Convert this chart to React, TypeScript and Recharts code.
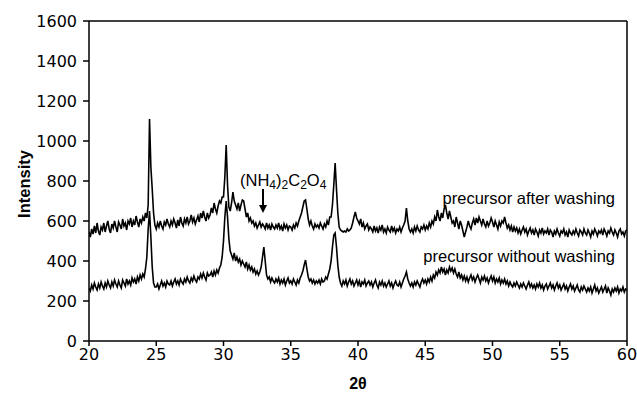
import React from "react";
import { LineChart, Line, XAxis, YAxis, ReferenceLine } from "recharts";

// intensity readings, 0.1° steps from 20.0 to 60.0 (one row per degree)
const afterWashing = [
  545, 520, 560, 535, 575, 540, 590, 550, 530, 570,
  555, 590, 545, 575, 600, 560, 540, 585, 565, 600,
  570, 545, 595, 580, 560, 610, 575, 590, 555, 600,
  585, 615, 570, 600, 580, 625, 595, 570, 610, 590,
  620, 600, 640, 615, 680, 1110, 870, 760, 640, 580,
  560, 590, 570, 600, 575, 560, 595, 580, 610, 585,
  570, 600, 580, 610, 590, 565, 605, 575, 620, 590,
  575, 610, 590, 620, 585, 600, 630, 595, 615, 585,
  605, 625, 595, 640, 615, 650, 620, 600, 640, 615,
  630, 665, 640, 690, 660, 640, 675, 700, 690, 720,
  720, 820, 980, 780, 670, 650, 690, 745, 700, 680,
  660, 690, 650, 680, 705, 700, 660, 620, 640, 600,
  615, 590, 600, 575, 590, 565, 580, 595, 570, 585,
  575, 560, 590, 565, 580, 555, 585, 570, 560, 580,
  565, 590, 560, 575, 550, 585, 565, 580, 555, 575,
  570, 555, 580, 565, 590, 575, 600, 620, 640, 670,
  700, 705, 660, 610, 580, 600, 575, 560, 585, 570,
  580, 565, 590, 575, 560, 585, 570, 600, 580, 620,
  620, 680, 780, 890, 760, 640, 570, 555, 550, 545,
  550, 545, 560, 550, 555, 565, 590, 620, 645, 615,
  600, 585, 610, 570, 590, 560, 575, 585, 555, 570,
  560, 545, 575, 550, 565, 540, 570, 555, 580, 545,
  560, 540, 570, 555, 545, 575, 550, 565, 540, 560,
  550, 570, 545, 565, 580, 600, 665, 600, 560, 545,
  560, 540, 570, 550, 575, 555, 545, 570, 560, 580,
  555, 575, 560, 590, 570, 600, 585, 620, 600, 655,
  620, 600, 640, 615, 660, 680, 640, 610, 650, 620,
  590, 600, 570, 620, 590, 560, 600, 580, 550, 520,
  545, 570, 600, 575, 560, 590, 610, 580, 615, 590,
  620, 600, 580, 610, 585, 570, 600, 575, 590, 615,
  595, 570, 600, 580, 560, 595, 575, 600, 590, 620,
  590, 565, 580, 555, 575, 545, 570, 550, 565, 540,
  560, 535, 555, 570, 545, 560, 530, 550, 565, 540,
  555, 530, 560, 545, 525, 555, 540, 565, 535, 550,
  540, 560, 530, 555, 545, 520, 550, 535, 560, 540,
  525, 550, 540, 560, 530, 545, 520, 555, 540, 530,
  550, 535, 560, 540, 525, 555, 545, 530, 560, 540,
  530, 555, 540, 520, 550, 535, 560, 545, 525, 550,
  540, 555, 530, 560, 545, 525, 550, 540, 565, 545,
  530, 555, 540, 520, 550, 560, 535, 545, 525, 550,
  555,
];

const withoutWashing = [
  265, 250, 280, 260, 290, 270, 255, 285, 265, 295,
  275, 260, 290, 270, 300, 280, 265, 295, 275, 305,
  285, 270, 300, 280, 265, 305, 290, 275, 310, 285,
  300, 280, 315, 295, 310, 285, 320, 300, 330, 310,
  335, 320, 360, 420, 560, 650, 520, 370, 290, 270,
  270, 285, 260, 280, 300, 275, 290, 270, 300, 285,
  280, 300, 275, 295, 310, 285, 300, 280, 310, 295,
  285, 310, 295, 320, 300, 290, 315, 300, 325, 305,
  295, 320, 310, 335, 315, 340, 320, 305, 340, 325,
  330, 345, 320, 350, 330, 355, 340, 365, 380, 420,
  500, 620, 700, 620, 510, 450, 430, 410, 440, 400,
  420, 395, 410, 380, 400, 385, 370, 395, 360, 380,
  355, 370, 345, 360, 335, 350, 330, 345, 370, 420,
  470, 400, 330, 310, 320, 295, 315, 300, 290, 310,
  295, 315, 285, 305, 290, 310, 280, 300, 315, 290,
  300, 285, 310, 295, 280, 305, 290, 315, 330, 350,
  380, 405, 360, 320, 300, 310, 290, 305, 285, 300,
  290, 305, 285, 310, 295, 300, 320, 310, 335, 360,
  400, 470, 530, 540, 470, 380, 320, 290, 275, 300,
  285, 305, 275, 295, 310, 285, 300, 275, 290, 305,
  280, 300, 270, 295, 285, 305, 275, 290, 300, 280,
  295, 270, 290, 305, 280, 265, 295, 280, 300, 275,
  290, 270, 285, 300, 275, 290, 265, 285, 300, 280,
  275, 295, 270, 290, 310, 325, 345, 310, 290, 275,
  290, 270, 295, 280, 300, 285, 270, 295, 310, 290,
  305, 285, 310, 295, 320, 300, 330, 315, 345, 330,
  355, 340, 370, 345, 360, 330, 355, 340, 370, 350,
  365, 340, 360, 335, 320, 345, 315, 330, 305, 325,
  300, 320, 295, 315, 330, 305, 320, 295, 315, 330,
  310, 290, 320, 305, 325, 300, 315, 290, 310, 325,
  300, 320, 290, 310, 295, 315, 285, 305, 290, 310,
  285, 300, 275, 295, 280, 270, 290, 275, 295, 280,
  265, 285, 270, 290, 275, 260, 280, 295, 270, 285,
  265, 280, 260, 285, 270, 290, 265, 280, 255, 275,
  285, 260, 275, 290, 265, 280, 255, 275, 290, 265,
  280, 255, 270, 285, 260, 275, 250, 270, 285, 260,
  275, 250, 265, 280, 255, 245, 270, 255, 275, 260,
  245, 265, 250, 270, 240, 260, 280, 250, 265, 240,
  255, 270, 245, 260, 275, 240, 265, 250, 230, 260,
  245, 265, 250, 270, 240, 260, 250, 270, 245, 260,
  255,
];

const xTicks = [20, 25, 30, 35, 40, 45, 50, 55, 60];
const yTicks = [0, 200, 400, 600, 800, 1000, 1200, 1400, 1600];

const data = afterWashing.map((v, i) => ({
  t: Math.round(200 + i) / 10,
  after: v,
  without: withoutWashing[i],
}));

const tickFont = { fontSize: 16, fill: "#000", fontFamily: "'DejaVu Sans', sans-serif" };
const textFont = "'Liberation Sans', Arial, sans-serif";

export default function App() {
  return (
    <div style={{ position: "absolute", left: 0, top: 0, width: 637, height: 397, background: "#fff" }}>
      <LineChart width={637} height={397} data={data} margin={{ top: 21, right: 10, bottom: 0, left: 29 }}>
        <XAxis dataKey="t" type="number" domain={[20, 60]} ticks={xTicks} interval={0} height={56}
          tick={tickFont} tickSize={5} tickMargin={3} stroke="#000" strokeWidth={1.5} allowDataOverflow />
        <YAxis type="number" domain={[0, 1600]} ticks={yTicks} interval={0} width={60}
          tick={tickFont} tickSize={6} tickMargin={6} stroke="#000" strokeWidth={1.5} allowDataOverflow />
        <ReferenceLine y={1600} stroke="#000" strokeWidth={1.5} />
        <ReferenceLine x={60} stroke="#000" strokeWidth={1.5} />
        <Line dataKey="after" type="linear" stroke="#000" strokeWidth={1.6} dot={false} isAnimationActive={false} />
        <Line dataKey="without" type="linear" stroke="#000" strokeWidth={1.6} dot={false} isAnimationActive={false} />
      </LineChart>
      <svg width={637} height={397} style={{ position: "absolute", left: 0, top: 0, pointerEvents: "none" }}>
        <text x={24} y={184} transform="rotate(-90 24 184)" textAnchor="middle" dominantBaseline="central"
          fontFamily={textFont} fontWeight="bold" fontSize={16.5}>Intensity</text>
        <text x={358} y={389} textAnchor="middle" fontFamily={textFont} fontWeight="bold" fontSize={16}>2θ</text>
        <text x={615} y={204} textAnchor="end" fontFamily={textFont} fontSize={16.5}>precursor after washing</text>
        <text x={615} y={262} textAnchor="end" fontFamily={textFont} fontSize={16.5}>precursor without washing</text>
        <text x={240} y={186} fontFamily={textFont} fontSize={16.5}>
          (NH<tspan fontSize={12} dy={3}>4</tspan><tspan dy={-3}>)</tspan>
          <tspan fontSize={12} dy={3}>2</tspan><tspan dy={-3}>C</tspan>
          <tspan fontSize={12} dy={3}>2</tspan><tspan dy={-3}>O</tspan>
          <tspan fontSize={12} dy={3}>4</tspan>
        </text>
        <line x1={263} y1={189} x2={263} y2={206} stroke="#000" strokeWidth={2} />
        <polygon points="259,205 267,205 263,213" fill="#000" />
      </svg>
    </div>
  );
}
